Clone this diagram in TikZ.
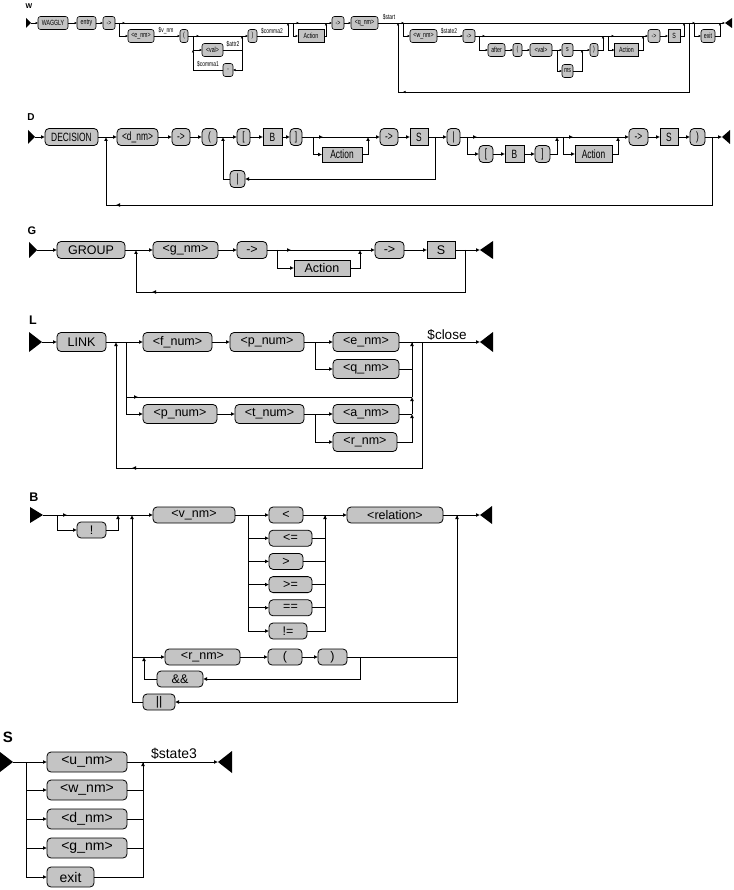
\documentclass[tikz,border=0pt]{standalone}
\usepackage{fontspec}
\setmainfont{Liberation Sans}
\newfontfamily\condfont[FakeStretch=0.7]{Liberation Sans}
\usetikzlibrary{arrows.meta, decorations.markings}
\definecolor{RailGray}{HTML}{C4C4C4}

\begin{document}
\begin{tikzpicture}[x=1pt, y=-1pt, line width=0.8pt,
  every node/.style={inner sep=0pt, outer sep=0pt},
  tbox/.style={draw, fill=RailGray, rounded corners=#1},
  tbox/.default=4pt,
  nbox/.style={draw, fill=RailGray},
  bw/.style={minimum width=#1pt},
  wsz/.style={minimum height=13pt, font=\condfont\fontsize{7.5}{8}\selectfont},
  dsz/.style={minimum height=17pt, font=\condfont\fontsize{12}{13}\selectfont},
  gsz/.style={minimum height=17pt, font=\fontsize{12.5}{14}\selectfont},
  lsz/.style={minimum height=19pt, font=\fontsize{12.5}{14}\selectfont},
  bsz/.style={minimum height=16pt, font=\fontsize{12.5}{14}\selectfont},
  ssz/.style={minimum height=20pt, font=\fontsize{14}{16}\selectfont},
  lbl/.style={font=\bfseries\fontsize{#1}{#1}\selectfont},
  wtxt/.style={font=\condfont\fontsize{7}{8}\selectfont},
  arr/.style={-{Latex[length=#1,width=#1]}},
  arr/.default=4pt,
  warr/.style={arr=2.5pt},
  fwd/.style={postaction=decorate, decoration={markings, mark=at position #1 with {\arrow{Latex[length=4pt,width=4pt]}}}},
  fwd/.default=10pt,
  wfwd/.style={postaction=decorate, decoration={markings, mark=at position #1 with {\arrow{Latex[length=2.5pt,width=2.5pt]}}}},
  wfwd/.default=6pt
]
  \useasboundingbox (0,0) rectangle (733,890);

  % W: WAGGLY
  \begin{scope}[line width=0.6pt]
  \node[lbl=7] (wlab) at (29,6) {W};
  \coordinate (wstart) at (31,23);
  \fill (wstart) -- ++(-5,-5) -- ++(0,10) -- cycle;
  \node[tbox=2.5pt, wsz, bw=30] (waggly) at (53,23) {WAGGLY};
  \node[tbox=2.5pt, wsz, bw=19] (wentry) at (86.5,23) {entry};
  \node[tbox=2.5pt, wsz, bw=12] (warr1) at (109,23) {->};
  \coordinate (wj1) at (119,23);
  \node[tbox=2.5pt, wsz, bw=26] (wenm) at (141,36) {<e\_nm>};
  \node[wtxt] (wvnm) at (166,31) {\$v\_nm};
  \node[tbox=2.5pt, wsz, bw=8] (wpar1) at (184,36) {(};
  \coordinate (wj2) at (193,36);
  \coordinate (wj2b) at (193,50);
  \node[tbox=2.5pt, wsz, bw=21] (wval1) at (212.5,50) {<val>};
  \node[wtxt] (wattr) at (233,44) {\$attr2};
  \coordinate (wj3) at (242,36);
  \node[tbox=2.5pt, wsz, bw=10] (wcomma) at (228,70) {,};
  \node[wtxt] (wcom1) at (208,64) {\$comma1};
  \node[tbox=2.5pt, wsz, bw=9] (wpar2) at (252.5,36) {)};
  \node[wtxt] (wcom2) at (272,31) {\$comma2};
  \coordinate (wj4) at (288,23);
  \coordinate (wj5) at (293,23);
  \node[nbox, wsz, bw=26] (wact1) at (311,36) {Action};
  \coordinate (wj6) at (326,23);
  \node[tbox=2.5pt, wsz, bw=12] (warr2) at (338,23) {->};
  \node[tbox=2.5pt, wsz, bw=27] (wqnm) at (364.5,23) {<q\_nm>};
  \node[wtxt] (wstlbl) at (389,17) {\$start};
  \coordinate (wj7) at (398,23);
  \coordinate (wj8) at (403,23);
  \coordinate (wloop) at (398,92);
  \node[tbox=2.5pt, wsz, bw=27] (wwnm) at (423.5,36) {<w\_nm>};
  \node[wtxt] (wst2) at (449,31) {\$state2};
  \node[tbox=2.5pt, wsz, bw=12] (warr3) at (469,36) {->};
  \coordinate (wj9) at (479,36);
  \node[tbox=2.5pt, wsz, bw=17] (wafter) at (496.5,50) {after};
  \node[tbox=2.5pt, wsz, bw=9] (wpar3) at (517.5,50) {(};
  \node[tbox=2.5pt, wsz, bw=22] (wval2) at (541,50) {<val>};
  \coordinate (wj10) at (557,50);
  \node[tbox=2.5pt, wsz, bw=11] (ws) at (567.5,50) {s};
  \node[tbox=2.5pt, wsz, bw=11] (wms) at (567.5,71) {ms};
  \coordinate (wj11) at (582,50);
  \node[tbox=2.5pt, wsz, bw=8] (wpar4) at (594,50) {)};
  \coordinate (wj12) at (603,36);
  \coordinate (wj13) at (608,36);
  \node[nbox, wsz, bw=24] (wact2) at (626.5,50) {Action};
  \coordinate (wj14) at (643,36);
  \node[tbox=2.5pt, wsz, bw=12] (warr4) at (654,36) {->};
  \node[nbox, wsz, bw=12] (wS) at (674,36) {S};
  \coordinate (wj15) at (684,23);
  \coordinate (wj16) at (689,23);
  \coordinate (wj17) at (694,23);
  \node[tbox=2.5pt, wsz, bw=14] (wexit) at (708,36) {exit};
  \coordinate (wj18) at (720,23);
  \coordinate (wend) at (725,23);
  \fill (wend) -- ++(7,-5) -- ++(0,10) -- cycle;

  \draw[warr] (wstart) -- (waggly);
  \draw[warr] (waggly) -- (wentry);
  \draw[warr] (wentry) -- (warr1);
  \draw (warr1) -- (wj1);
  \draw[wfwd] (wj1) -- (wj4);
  \draw (wj4) -- (wj5);
  \draw[wfwd] (wj5) -- (wj6);
  \draw[warr] (wj1) |- (wenm);
  \draw[warr] (wenm) -- (wpar1);
  \draw (wpar1) -- (wj2);
  \draw[wfwd] (wj2) -- (wj3);
  \draw[warr] (wj2) |- (wval1);
  \draw[warr] (wval1) -| (wj3);
  \draw[warr] (wj3) |- (wcomma);
  \draw[warr] (wcomma) -| (wj2b);
  \draw[warr] (wj3) -- (wpar2);
  \draw[warr] (wpar2) -| (wj4);
  \draw[warr] (wj5) |- (wact1);
  \draw[warr] (wact1) -| (wj6);
  \draw[warr] (wj6) -- (warr2);
  \draw[warr] (warr2) -- (wqnm);
  \draw (wqnm) -- (wj7);
  \draw[wfwd] (wj7) -- (wj16);
  \draw[warr] (wj8) |- (wwnm);
  \draw[warr] (wwnm) -- (warr3);
  \draw (warr3) -- (wj9);
  \draw[wfwd] (wj9) -- (wj12);
  \draw (wj12) -- (wj13);
  \draw[wfwd] (wj13) -- (wj14);
  \draw[warr] (wj9) |- (wafter);
  \draw[warr] (wafter) -- (wpar3);
  \draw[warr] (wpar3) -- (wval2);
  \draw (wval2) -- (wj10);
  \draw[warr] (wj10) -- (ws);
  \draw[warr] (wj10) |- (wms);
  \draw (ws) -- (wj11);
  \draw[warr] (wms) -| (wj11);
  \draw[warr] (wj11) -- (wpar4);
  \draw[warr] (wpar4) -| (wj12);
  \draw[warr] (wj13) |- (wact2);
  \draw[warr] (wact2) -| (wj14);
  \draw[warr] (wj14) -- (warr4);
  \draw[warr] (warr4) -- (wS);
  \draw[warr] (wS) -| (wj15);
  \draw[warr, wfwd=-74pt] (wj16) |- (wloop) -- (wj7);
  \draw[wfwd] (wj16) -- (wj18);
  \draw[warr] (wj17) |- (wexit);
  \draw[warr] (wexit) -| (wj18);
  \draw[warr] (wj18) -- (wend);
  \end{scope}

  % D: DECISION
  \node[lbl=10] (dlab) at (31,117) {D};
  \coordinate (dstart) at (35,137);
  \fill (dstart) -- ++(-7,-7) -- ++(0,14) -- cycle;
  \node[tbox, dsz, bw=53] (ddec) at (71.5,137) {DECISION};
  \coordinate (dj1) at (106,137);
  \node[tbox, dsz, bw=41] (ddnm) at (137.5,137) {<d\_nm>};
  \node[tbox, dsz, bw=18] (darr1) at (181,137) {->};
  \node[tbox, dsz, bw=15] (dpar1) at (209.5,137) {(};
  \coordinate (dj2) at (223,137);
  \node[tbox, dsz, bw=13] (dlb1) at (243.5,137) {[};
  \node[nbox, dsz, bw=19] (dB1) at (272.5,137) {B};
  \node[tbox, dsz, bw=12] (drb1) at (296,137) {]};
  \coordinate (dj3) at (313,137);
  \node[nbox, dsz, bw=40, minimum height=15pt] (dact1) at (342,154.5) {Action};
  \coordinate (dj4) at (368,137);
  \node[tbox, dsz, bw=18] (darr2) at (389,137) {->};
  \node[nbox, dsz, bw=18] (dS1) at (419,137) {S};
  \coordinate (dj5) at (435,137);
  \node[tbox, dsz, bw=13] (dbar1) at (453.5,137) {|};
  \node[tbox, dsz, bw=15] (dbar2) at (237.5,179) {|};
  \coordinate (dj6) at (467,137);
  \node[tbox, dsz, bw=14] (dlb2) at (486,154) {[};
  \node[nbox, dsz, bw=19] (dB2) at (514.5,154) {B};
  \node[tbox, dsz, bw=15] (drb2) at (542.5,154) {]};
  \coordinate (dj7) at (557,137);
  \coordinate (dj8) at (563,137);
  \node[nbox, dsz, bw=37] (dact2) at (593.5,154) {Action};
  \coordinate (dj9) at (618,137);
  \node[tbox, dsz, bw=19] (darr3) at (638.5,137) {->};
  \node[nbox, dsz, bw=18] (dS2) at (669,137) {S};
  \node[tbox, dsz, bw=15] (dpar2) at (697.5,137) {)};
  \coordinate (dj10) at (712,137);
  \coordinate (dloop) at (106,205);
  \coordinate (dend) at (722,137);
  \fill (dend) -- ++(8,-7) -- ++(0,14) -- cycle;

  \draw[arr] (dstart) -- (ddec);
  \draw (ddec) -- (dj1);
  \draw[arr] (dj1) -- (ddnm);
  \draw[arr] (ddnm) -- (darr1);
  \draw[arr] (darr1) -- (dpar1);
  \draw (dpar1) -- (dj2);
  \draw[arr] (dj2) -- (dlb1);
  \draw[arr] (dlb1) -- (dB1);
  \draw[arr] (dB1) -- (drb1);
  \draw (drb1) -- (dj3);
  \draw[fwd] (dj3) -- (dj4);
  \draw[arr] (dj3) |- (dact1);
  \draw[arr] (dact1) -| (dj4);
  \draw[arr] (dj4) -- (darr2);
  \draw[arr] (darr2) -- (dS1);
  \draw (dS1) -- (dj5);
  \draw[arr] (dj5) -- (dbar1);
  \draw[arr] (dj5) |- (dbar2);
  \draw[arr] (dbar2) -| (dj2);
  \draw (dbar1) -- (dj6);
  \draw[fwd] (dj6) -- (dj7);
  \draw[arr] (dj6) |- (dlb2);
  \draw[arr] (dlb2) -- (dB2);
  \draw[arr] (dB2) -- (drb2);
  \draw[arr] (drb2) -| (dj7);
  \draw (dj7) -- (dj8);
  \draw[fwd] (dj8) -- (dj9);
  \draw[arr] (dj8) |- (dact2);
  \draw[arr] (dact2) -| (dj9);
  \draw[arr] (dj9) -- (darr3);
  \draw[arr] (darr3) -- (dS2);
  \draw[arr] (dS2) -- (dpar2);
  \draw (dpar2) -- (dj10);
  \draw[arr] (dj10) -- (dend);
  \draw[arr, fwd=-78pt] (dj10) |- (dloop) -- (dj1);

  % G: GROUP
  \node[lbl=11] (glab) at (32,231) {G};
  \coordinate (gstart) at (37,250);
  \fill (gstart) -- ++(-8,-8) -- ++(0,16) -- cycle;
  \node[tbox, gsz, bw=68] (ggroup) at (91,250) {GROUP};
  \coordinate (gj1) at (136,250);
  \node[tbox, gsz, bw=65] (ggnm) at (185.5,250) {<g\_nm>};
  \node[tbox, gsz, bw=30] (garr1) at (252,250) {->};
  \coordinate (gj2) at (277,250);
  \node[nbox, gsz, bw=56, minimum height=16pt] (gact) at (322,268) {Action};
  \coordinate (gj3) at (360,250);
  \node[tbox, gsz, bw=29] (garr2) at (389.5,250) {->};
  \node[nbox, gsz, bw=28] (gS) at (441,250) {S};
  \coordinate (gj4) at (465,250);
  \coordinate (gloop) at (136,292);
  \coordinate (gend) at (480,250);
  \fill (gend) -- ++(13,-9) -- ++(0,18) -- cycle;

  \draw[arr] (gstart) -- (ggroup);
  \draw (ggroup) -- (gj1);
  \draw[arr] (gj1) -- (ggnm);
  \draw[arr] (ggnm) -- (garr1);
  \draw (garr1) -- (gj2);
  \draw[fwd=14pt] (gj2) -- (gj3);
  \draw[arr] (gj2) |- (gact);
  \draw[arr] (gact) -| (gj3);
  \draw[arr] (gj3) -- (garr2);
  \draw[arr] (garr2) -- (gS);
  \draw (gS) -- (gj4);
  \draw[arr] (gj4) -- (gend);
  \draw[arr, fwd=-58pt] (gj4) |- (gloop) -- (gj1);

  % L: LINK
  \node[lbl=12.5] (llab) at (33,320) {L};
  \coordinate (lstart) at (42,342);
  \fill (lstart) -- ++(-13,-10) -- ++(0,20) -- cycle;
  \node[tbox, lsz, bw=49] (llink) at (81.5,342) {LINK};
  \coordinate (lj1) at (116,342);
  \coordinate (lj2) at (126,342);
  \node[tbox, lsz, bw=69] (lfnum) at (177.5,342) {<f\_num>};
  \node[tbox, lsz, bw=74] (lpnum1) at (267,342) {<p\_num>};
  \coordinate (lj3) at (315,342);
  \node[tbox, lsz, bw=66] (lenm) at (366,342) {<e\_nm>};
  \node[tbox, lsz, bw=66] (lqnm) at (366,369) {<q\_nm>};
  \coordinate (lj4) at (412,342);
  \coordinate (lj5) at (422,342);
  \node[font=\fontsize{13.5}{15}\selectfont] (lclose) at (447,335) {\$close};
  \coordinate (lskip) at (412,397);
  \node[tbox, lsz, bw=74] (lpnum2) at (180,414) {<p\_num>};
  \node[tbox, lsz, bw=69] (ltnum) at (269.5,414) {<t\_num>};
  \coordinate (lj6) at (315,414);
  \node[tbox, lsz, bw=66] (lanm) at (366,414) {<a\_nm>};
  \node[tbox, lsz, bw=64] (lrnm) at (365,442) {<r\_nm>};
  \coordinate (lj7) at (412,414);
  \coordinate (lloop) at (116,468);
  \coordinate (lend) at (480,342);
  \fill (lend) -- ++(13,-10) -- ++(0,20) -- cycle;

  \draw[arr] (lstart) -- (llink);
  \draw (llink) -- (lj2);
  \draw[arr] (lj2) -- (lfnum);
  \draw[arr] (lfnum) -- (lpnum1);
  \draw (lpnum1) -- (lj3);
  \draw[arr] (lj3) -- (lenm);
  \draw[arr] (lj3) |- (lqnm);
  \draw (lenm) -- (lj5);
  \draw[arr] (lqnm) -| (lj4);
  \draw[fwd=67pt] (lj2) |- (lskip);
  \draw (lskip) -- (lj4);
  \draw[arr] (lj7) -- (lskip);
  \draw[arr] (lj2) |- (lpnum2);
  \draw[arr] (lpnum2) -- (ltnum);
  \draw (ltnum) -- (lj6);
  \draw[arr] (lj6) -- (lanm);
  \draw[arr] (lj6) |- (lrnm);
  \draw (lanm) -- (lj7);
  \draw[arr] (lrnm) -| (lj7);
  \draw[arr] (lj5) -- (lend);
  \draw[arr, fwd=-142pt] (lj5) |- (lloop) -- (lj1);

  % B: boolean condition
  \node[lbl=12.5] (blab) at (34,497) {B};
  \coordinate (bstart) at (43,515);
  \fill (bstart) -- ++(-13,-8) -- ++(0,16) -- cycle;
  \coordinate (bj1) at (57,515);
  \node[tbox, bsz, bw=29] (bnot) at (91.5,530) {!};
  \coordinate (bj2) at (118,515);
  \coordinate (bj3) at (132,515);
  \node[tbox, bsz, bw=82] (bvnm) at (194,515) {<v\_nm>};
  \coordinate (bj4) at (248,515);
  \node[tbox, bsz, bw=34] (blt) at (286,515) {<};
  \node[tbox, bsz, bw=43] (ble) at (290.5,538.2) {<=};
  \node[tbox, bsz, bw=34] (bgt) at (286,561.4) {>};
  \node[tbox, bsz, bw=43] (bge) at (290.5,584.6) {>=};
  \node[tbox, bsz, bw=43] (beq) at (290.5,607.8) {==};
  \node[tbox, bsz, bw=38] (bne) at (288,631) {!=};
  \coordinate (bj5) at (325,515);
  \node[tbox, bsz, bw=96] (brel) at (395,515) {<relation>};
  \coordinate (bj6) at (457,515);
  \coordinate (bj7) at (132,657);
  \coordinate (bj8) at (144,657);
  \node[tbox, bsz, bw=75] (brnm) at (202.5,657) {<r\_nm>};
  \node[tbox, bsz, bw=34] (bpar1) at (285,657) {(};
  \node[tbox, bsz, bw=29] (bpar2) at (332.5,657) {)};
  \coordinate (bj9) at (360,657);
  \coordinate (bj10) at (457,657);
  \node[tbox, bsz, bw=46] (band) at (180,679) {\&\&};
  \node[tbox, bsz, bw=32] (bor) at (159,702) {||};
  \coordinate (bend) at (480,515);
  \fill (bend) -- ++(12,-9) -- ++(0,18) -- cycle;

  \draw (bstart) -- (bj1);
  \draw[fwd] (bj1) -- (bj2);
  \draw[arr] (bj1) |- (bnot);
  \draw[arr] (bnot) -| (bj2);
  \draw (bj2) -- (bj3);
  \draw[arr] (bj3) -- (bvnm);
  \draw (bvnm) -- (bj4);
  \draw[arr] (bj4) -- (blt);
  \foreach \cmp in {ble,bgt,bge,beq,bne} \draw[arr] (bj4) |- (\cmp);
  \foreach \cmp in {ble,bgt,bge,beq} \draw (\cmp) -| (bj5);
  \draw (blt) -- (bj5);
  \draw[arr] (bne) -| (bj5);
  \draw[arr] (bj5) -- (brel);
  \draw (brel) -- (bj6);
  \draw[arr] (bj6) -- (bend);
  \draw[arr] (bj10) -- (bj6);
  \draw[arr] (bj6) |- (bor);
  \draw[arr] (bor) -| (bj3);
  \draw[arr] (bj7) -- (brnm);
  \draw[arr] (brnm) -- (bpar1);
  \draw[arr] (bpar1) -- (bpar2);
  \draw (bpar2) -- (bj10);
  \draw[arr] (bj9) |- (band);
  \draw[arr] (band) -| (bj8);

  % S: state
  \node[lbl=15] (slab) at (8,737) {S};
  \coordinate (sstart) at (13,762);
  \fill (sstart) -- ++(-13,-10) -- ++(0,20) -- cycle;
  \coordinate (sj1) at (26,762);
  \node[tbox, ssz, bw=80] (sunm) at (87,762) {<u\_nm>};
  \node[tbox, ssz, bw=80] (swnm) at (87,790) {<w\_nm>};
  \node[tbox, ssz, bw=80] (sdnm) at (87,819) {<d\_nm>};
  \node[tbox, ssz, bw=80] (sgnm) at (87,848) {<g\_nm>};
  \node[tbox, ssz, bw=47] (sexit) at (70.5,877) {exit};
  \coordinate (sj2) at (143,762);
  \node[font=\fontsize{14}{16}\selectfont] (sstate) at (174,754) {\$state3};
  \coordinate (send) at (218,762);
  \fill (send) -- ++(14,-11) -- ++(0,22) -- cycle;

  \draw (sstart) -- (sj1);
  \draw[arr] (sj1) -- (sunm);
  \foreach \alt in {swnm,sdnm,sgnm,sexit} \draw[arr] (sj1) |- (\alt);
  \foreach \alt in {swnm,sdnm,sgnm} \draw (\alt) -| (sj2);
  \draw[arr] (sexit) -| (sj2);
  \draw (sunm) -- (sj2);
  \draw[arr] (sj2) -- (send);
\end{tikzpicture}
\end{document}
